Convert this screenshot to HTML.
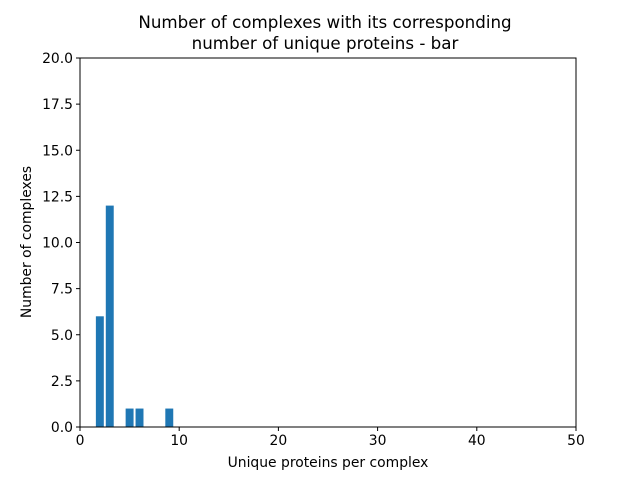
<!DOCTYPE html>
<html><head><meta charset="utf-8"><style>
body{margin:0;background:#fff}
svg text{font-family:"DejaVu Sans","Liberation Sans",sans-serif;fill:#000}
</style></head><body>
<svg id="chart" width="640" height="480" xmlns="http://www.w3.org/2000/svg">
<rect width="640" height="480" fill="#fff"/>
<text x="325" y="28" text-anchor="middle" font-size="16.7">Number of complexes with its corresponding</text>
<text x="325" y="49" text-anchor="middle" font-size="16.7">number of unique proteins - bar</text>
<g id="bars"></g>
<g id="axes"></g>
<rect x="80" y="58" width="496" height="369" fill="none" stroke="#000" stroke-width="1"/>
<text x="328" y="467" text-anchor="middle" font-size="13.9">Unique proteins per complex</text>
<text transform="translate(31,242) rotate(-90)" text-anchor="middle" font-size="13.9">Number of complexes</text>
</svg>
<script>
const categories=[2,3,5,6,9];
const counts=[6,12,1,1,1];
const xTicks=[0,10,20,30,40,50];
const yTicks=[0,2.5,5,7.5,10,12.5,15,17.5,20];
const L=80,R=576,T=58,B=427;
const xs=v=>L+(v/50)*(R-L);
const ys=v=>B-(v/20)*(B-T);
const ns="http://www.w3.org/2000/svg";
const bars=document.getElementById('bars'),axes=document.getElementById('axes');
categories.forEach((c,i)=>{
 const r=document.createElementNS(ns,'rect');
 
 
 const x0=xs(c-0.4),x1=xs(c+0.4);
 r.setAttribute('x',x0);r.setAttribute('width',x1-x0);
 r.setAttribute('y',ys(counts[i]));r.setAttribute('height',B-ys(counts[i]));
 r.setAttribute('fill','#1f77b4');
 bars.appendChild(r);
});
xTicks.forEach(t=>{
 const l=document.createElementNS(ns,'line');
 
 
 l.setAttribute('x1',xs(t));l.setAttribute('x2',xs(t));l.setAttribute('y1',B);l.setAttribute('y2',B+4);l.setAttribute('stroke','#000');
 axes.appendChild(l);
 const tx=document.createElementNS(ns,'text');
 
 
 tx.setAttribute('x',xs(t));tx.setAttribute('y',B+18);tx.setAttribute('text-anchor','middle');tx.setAttribute('font-size','13.9');
 tx.textContent=t;axes.appendChild(tx);
});
yTicks.forEach(t=>{
 const l=document.createElementNS(ns,'line');
 
 
 l.setAttribute('x1',L-4);l.setAttribute('x2',L);l.setAttribute('y1',ys(t));l.setAttribute('y2',ys(t));l.setAttribute('stroke','#000');
 axes.appendChild(l);
 const tx=document.createElementNS(ns,'text');
 
 
 tx.setAttribute('x',L-7);tx.setAttribute('y',ys(t)+5);tx.setAttribute('text-anchor','end');tx.setAttribute('font-size','13.9');
 tx.textContent=t.toFixed(1);axes.appendChild(tx);
});
</script>
</body></html>
